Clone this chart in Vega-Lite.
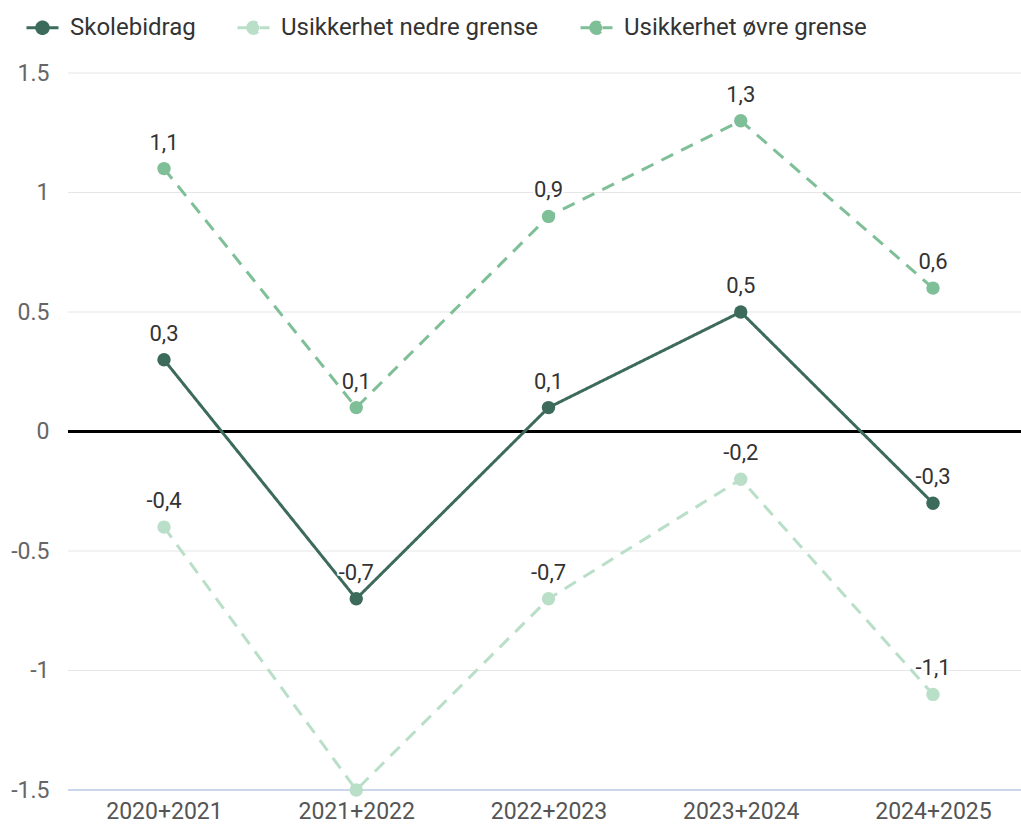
{
  "$schema": "https://vega.github.io/schema/vega-lite/v6.json",
  "autosize": "none",
  "width": 953,
  "height": 717,
  "padding": {"left": 68, "top": 73, "right": 0, "bottom": 41},
  "background": "white",
  "config": {
    "font": "Roboto",
    "view": {"stroke": null}
  },
  "datasets": {
    "grid": [{"g": -1}, {"g": -0.5}, {"g": 0.5}, {"g": 1}, {"g": 1.5}]
  },
  "data": {
    "values": [
      {"periode": "2020+2021", "serie": "Skolebidrag", "verdi": 0.3},
      {"periode": "2021+2022", "serie": "Skolebidrag", "verdi": -0.7},
      {"periode": "2022+2023", "serie": "Skolebidrag", "verdi": 0.1},
      {"periode": "2023+2024", "serie": "Skolebidrag", "verdi": 0.5},
      {"periode": "2024+2025", "serie": "Skolebidrag", "verdi": -0.3},
      {"periode": "2020+2021", "serie": "Usikkerhet nedre grense", "verdi": -0.4},
      {"periode": "2021+2022", "serie": "Usikkerhet nedre grense", "verdi": -1.5},
      {"periode": "2022+2023", "serie": "Usikkerhet nedre grense", "verdi": -0.7},
      {"periode": "2023+2024", "serie": "Usikkerhet nedre grense", "verdi": -0.2},
      {"periode": "2024+2025", "serie": "Usikkerhet nedre grense", "verdi": -1.1},
      {"periode": "2020+2021", "serie": "Usikkerhet øvre grense", "verdi": 1.1},
      {"periode": "2021+2022", "serie": "Usikkerhet øvre grense", "verdi": 0.1},
      {"periode": "2022+2023", "serie": "Usikkerhet øvre grense", "verdi": 0.9},
      {"periode": "2023+2024", "serie": "Usikkerhet øvre grense", "verdi": 1.3},
      {"periode": "2024+2025", "serie": "Usikkerhet øvre grense", "verdi": 0.6}
    ]
  },
  "transform": [
    {"calculate": "replace(toString(datum.verdi), '.', ',')", "as": "etikett"}
  ],
  "encoding": {
    "x": {
      "field": "periode",
      "type": "ordinal",
      "scale": {"type": "point", "range": [96, 865], "padding": 0},
      "axis": {
        "title": null,
        "labelAngle": 0,
        "labelFont": "Roboto",
        "labelFontSize": 23,
        "labelColor": "#555555",
        "labelPadding": 10,
        "ticks": false,
        "domain": false,
        "grid": false
      }
    },
    "y": {
      "field": "verdi",
      "type": "quantitative",
      "scale": {"domain": [-1.5, 1.5], "nice": false, "zero": false},
      "axis": {
        "title": null,
        "values": [-1.5, -1, -0.5, 0, 0.5, 1, 1.5],
        "labelExpr": "'' + datum.value",
        "labelFont": "Roboto",
        "labelFontSize": 23,
        "labelColor": "#666666",
        "labelPadding": 19,
        "ticks": false,
        "domain": false,
        "grid": false
      }
    }
  },
  "layer": [
    {
      "data": {"name": "grid"},
      "transform": [],
      "mark": {"type": "rule", "color": "#e6e6e6", "strokeWidth": 1},
      "encoding": {"y": {"field": "g", "type": "quantitative"}, "x": null}
    },
    {
      "mark": {"type": "rule", "color": "#ccd6eb", "strokeWidth": 2},
      "encoding": {"y": {"datum": -1.5}, "x": null}
    },
    {
      "mark": {"type": "rule", "color": "#000000", "strokeWidth": 2},
      "encoding": {"y": {"datum": 0}, "x": null}
    },
    {
      "mark": {"type": "line", "strokeWidth": 3},
      "encoding": {
        "color": {
          "field": "serie",
          "type": "nominal",
          "scale": {
            "domain": ["Skolebidrag", "Usikkerhet nedre grense", "Usikkerhet øvre grense"],
            "range": ["#3d6b5b", "#b9dfc8", "#7fbf98"]
          },
          "legend": {
            "title": null,
            "orient": "none",
            "direction": "horizontal",
            "legendX": -43,
            "legendY": -63,
            "labelFont": "Roboto",
            "labelFontSize": 24,
            "labelColor": "#333333",
            "labelOffset": 10,
            "labelLimit": 400,
            "columnPadding": 35,
            "symbolType": "M-1,0L1,0M-0.36,0A0.36,0.36,0,1,1,0.36,0A0.36,0.36,0,1,1,-0.36,0Z",
            "symbolSize": 1024,
            "symbolStrokeWidth": 3,
            "encode": {
              "symbols": {
                "update": {
                  "fill": {"scale": "color", "field": "value"},
                  "fillOpacity": {"value": 1}
                }
              }
            }
          }
        },
        "strokeDash": {
          "field": "serie",
          "type": "nominal",
          "scale": {
            "domain": ["Skolebidrag", "Usikkerhet nedre grense", "Usikkerhet øvre grense"],
            "range": [[1, 0], [13, 9], [13, 9]]
          },
          "legend": null
        }
      }
    },
    {
      "mark": {"type": "point", "filled": true, "opacity": 1, "size": 180},
      "encoding": {
        "color": {"field": "serie", "type": "nominal", "legend": null}
      }
    },
    {
      "transform": [{"filter": "datum.verdi > -1.5"}],
      "mark": {"type": "text", "dy": -26, "fontSize": 22, "font": "Roboto", "stroke": "white", "strokeWidth": 4, "strokeJoin": "round", "fill": "white"},
      "encoding": {"text": {"field": "etikett"}}
    },
    {
      "transform": [{"filter": "datum.verdi > -1.5"}],
      "mark": {"type": "text", "dy": -26, "fontSize": 22, "font": "Roboto", "fill": "#333333"},
      "encoding": {"text": {"field": "etikett"}}
    }
  ]
}
